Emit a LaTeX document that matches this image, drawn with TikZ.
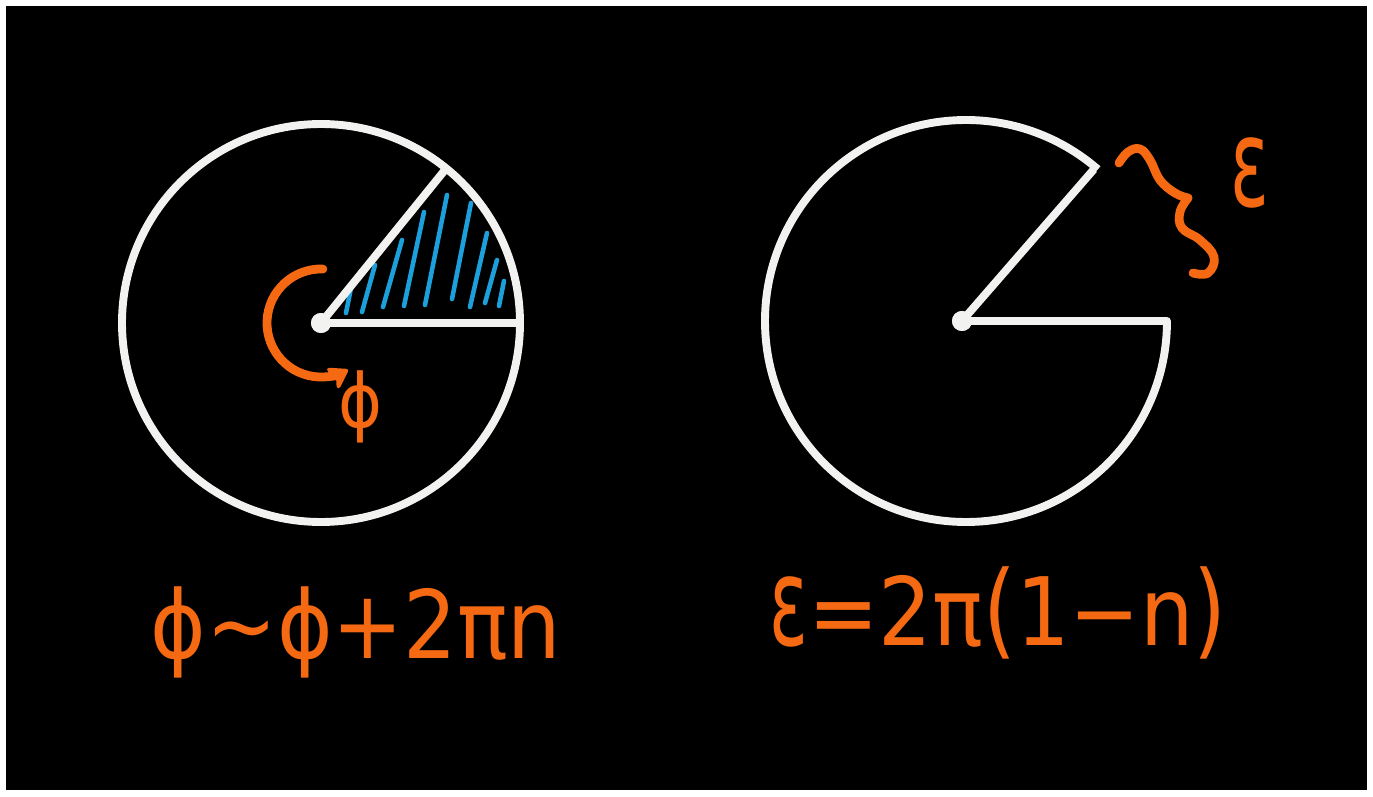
\documentclass[tikz,border=0pt]{standalone}
\usepackage{fontspec}
\usepackage{graphicx}
\usetikzlibrary{arrows.meta}

\newfontfamily\handfont{DejaVu Sans}
\definecolor{chalk}{RGB}{242,242,240}
\definecolor{penorange}{RGB}{245,105,18}
\definecolor{penblue}{RGB}{28,160,220}
\newcommand{\handeps}{\scalebox{0.85}[1.3]{ε}}

\begin{document}
\begin{tikzpicture}[x=0.02cm, y=0.02cm,
  rim/.style={draw=chalk, line width=4.5pt, line join=round},
  dot/.style={circle, fill=chalk, inner sep=0pt, minimum size=0.4cm},
  hatch/.style={draw=penblue, line width=2.6pt, line cap=round},
  pen/.style={draw=penorange, line width=5pt, line cap=round},
  hand/.style={text=penorange, inner sep=0pt, yscale=1.12,
    font=\handfont\fontsize{48}{52}\selectfont}]
\useasboundingbox (0,0) rectangle (1373,796);
\fill[white] (0,0) rectangle (1373,796);
\fill[black] (6,6) rectangle (1367,790);

% left: full circle with a hatched wedge
\node (lc) [dot] at (321,473) {};
\path (lc.center) ++(51:200) coordinate (ltip);
\path (lc.center) ++(0:202) coordinate (lend);
\foreach \xa/\ya/\xb/\yb in {351/508/346/483, 375/531/362/484, 402/556/383/489,
    424/584/404/490, 447/601/425/491, 471/593/452/497, 487/563/470/489,
    497/536/485/493, 504/515/499/490}
  \draw[hatch] (\xa,\ya) -- (\xb,\yb);
\draw[rim] (lc.center) circle[radius=199];
\draw[rim] (ltip) -- (lc.center) -- (lend);
\node[dot] at (lc) {};
\draw[pen, -{Stealth[round, length=13pt, width=17pt]}] (lc.center) ++(88:54)
  arc[start angle=88, end angle=300, radius=54];
\node (phi) [hand, font=\handfont\fontsize{38}{42}\selectfont] at (361,389) {ϕ};
\node (lrule) [hand, anchor=base] at (356,138) {ϕ∼ϕ+2πn};

% right: circle with a wedge cut out
\node (rc) [dot] at (962,475) {};
\path (rc.center) ++(49:201) coordinate (rtip);
\path (rc.center) ++(0:205) coordinate (rend);
\draw[rim] (rtip) -- (rc.center) -- (rend) arc[start angle=0, end angle=-311, radius=201];
\node[dot] at (rc) {};
\draw[pen] plot[smooth, tension=0.7] coordinates {(1119,633) (1128,644) (1140,647)
  (1150,636) (1160,616) (1175,603) (1188,598)};
\draw[pen] plot[smooth, tension=0.7] coordinates {(1188,598) (1180,584) (1182,568)
  (1200,556) (1214,539) (1208,523) (1193,523)};
\node (eps) [hand] at (1250,623) {\handeps};
\node (rrule) [hand, anchor=base] at (998,151) {\handeps=2π\scalebox{1}[1.1]{(}1−n\scalebox{1}[1.1]{)}};
\end{tikzpicture}
\end{document}
